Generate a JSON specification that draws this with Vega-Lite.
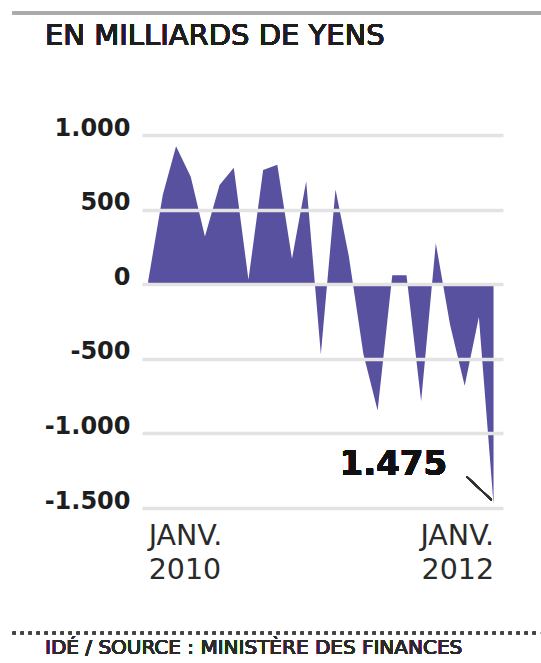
{
  "$schema": "https://vega.github.io/schema/vega-lite/v6.json",
  "autosize": {"type": "none"},
  "width": 361,
  "height": 373,
  "padding": {"left": 142, "top": 135, "right": 38, "bottom": 155},
  "background": "white",
  "config": {"view": {"stroke": null}, "font": "DejaVu Sans"},
  "data": {
    "values": [
      {"month": "2010-01-01", "balance": 20},
      {"month": "2010-02-01", "balance": 600},
      {"month": "2010-03-01", "balance": 925},
      {"month": "2010-04-01", "balance": 720},
      {"month": "2010-05-01", "balance": 320},
      {"month": "2010-06-01", "balance": 665},
      {"month": "2010-07-01", "balance": 780},
      {"month": "2010-08-01", "balance": 30},
      {"month": "2010-09-01", "balance": 765},
      {"month": "2010-10-01", "balance": 800},
      {"month": "2010-11-01", "balance": 170},
      {"month": "2010-12-01", "balance": 690},
      {"month": "2011-01-01", "balance": -470},
      {"month": "2011-02-01", "balance": 635},
      {"month": "2011-03-01", "balance": 190},
      {"month": "2011-04-01", "balance": -470},
      {"month": "2011-05-01", "balance": -846},
      {"month": "2011-06-01", "balance": 60},
      {"month": "2011-07-01", "balance": 60},
      {"month": "2011-08-01", "balance": -785},
      {"month": "2011-09-01", "balance": 275},
      {"month": "2011-10-01", "balance": -270},
      {"month": "2011-11-01", "balance": -680},
      {"month": "2011-12-01", "balance": -220},
      {"month": "2012-01-01", "balance": -1475}
    ]
  },
  "layer": [
    {
      "mark": {"type": "area", "color": "#58519f", "interpolate": "linear"},
      "encoding": {
        "x": {
          "field": "month",
          "type": "temporal",
          "scale": {"domain": [{"year": 2009, "month": 12, "date": 19}, {"year": 2012, "month": 1, "date": 21}]},
          "axis": {
            "title": null,
            "values": [{"year": 2010, "month": 1, "date": 1}, {"year": 2012, "month": 1, "date": 1}],
            "grid": false,
            "domain": false,
            "ticks": false,
            "labelExpr": "['JANV.', timeFormat(datum.value, '%Y')]",
            "labelFlush": 14,
            "labelFont": "DejaVu Sans",
            "labelFontSize": 28.5,
            "labelLineHeight": 34,
            "labelColor": "#2a2a2a",
            "labelBaseline": "top",
            "labelPadding": 13
          }
        },
        "y": {
          "field": "balance",
          "type": "quantitative",
          "scale": {"domain": [-1500, 1000], "nice": false},
          "axis": {
            "title": null,
            "values": [-1500, -1000, -500, 0, 500, 1000],
            "grid": true,
            "gridColor": "#e3e3e3",
            "gridWidth": 3.5,
            "domain": false,
            "ticks": false,
            "zindex": 1,
            "labelExpr": "(datum.value < 0 ? '-' : '') + replace(format(abs(datum.value), ','), ',', '.')",
            "labelFont": "DejaVu Sans",
            "labelFontWeight": "bold",
            "labelFontSize": 24,
            "labelColor": "#1e1e1e",
            "labelBaseline": "alphabetic",
            "labelAlign": "right",
            "labelPadding": 12
          }
        }
      }
    },
    {
      "mark": {"type": "rule", "color": "#aaaaaa", "strokeWidth": 2.5},
      "encoding": {
        "x": {"datum": {"year": 2009, "month": 3, "date": 21}},
        "x2": {"datum": {"year": 2012, "month": 4, "date": 10}},
        "y": {"datum": 1817}
      }
    },
    {
      "mark": {"type": "rule", "color": "#444444", "strokeWidth": 2.5, "strokeDash": [2.5, 5.5]},
      "encoding": {
        "x": {"datum": {"year": 2009, "month": 3, "date": 21}},
        "x2": {"datum": {"year": 2012, "month": 4, "date": 10}},
        "y": {"datum": -2338}
      }
    },
    {
      "mark": {"type": "rule", "color": "#333333", "strokeWidth": 1.5},
      "encoding": {
        "x": {"datum": {"year": 2011, "month": 11, "date": 5}},
        "x2": {"datum": {"year": 2011, "month": 12, "date": 28}},
        "y": {"datum": -1290},
        "y2": {"datum": -1446}
      }
    },
    {
      "mark": {"type": "text", "align": "left", "baseline": "alphabetic", "font": "DejaVu Sans", "fontSize": 29, "color": "#1e1e1e"},
      "encoding": {
        "x": {"datum": {"year": 2009, "month": 5, "date": 28}},
        "y": {"datum": 1603},
        "text": {"value": "EN MILLIARDS DE YENS"}
      }
    },
    {
      "mark": {"type": "text", "align": "right", "baseline": "alphabetic", "font": "DejaVu Sans", "fontWeight": "bold", "fontSize": 34, "color": "#111111"},
      "encoding": {
        "x": {"datum": {"year": 2011, "month": 9, "date": 25}},
        "y": {"datum": -1279},
        "text": {"value": "1.475"}
      }
    },
    {
      "mark": {"type": "text", "align": "left", "baseline": "bottom", "font": "DejaVu Sans", "fontSize": 20, "color": "#2a2a2a"},
      "encoding": {
        "x": {"datum": {"year": 2009, "month": 5, "date": 28}},
        "y": {"datum": -2505},
        "text": {"value": "IDÉ / SOURCE : MINISTÈRE DES FINANCES"}
      }
    }
  ]
}
